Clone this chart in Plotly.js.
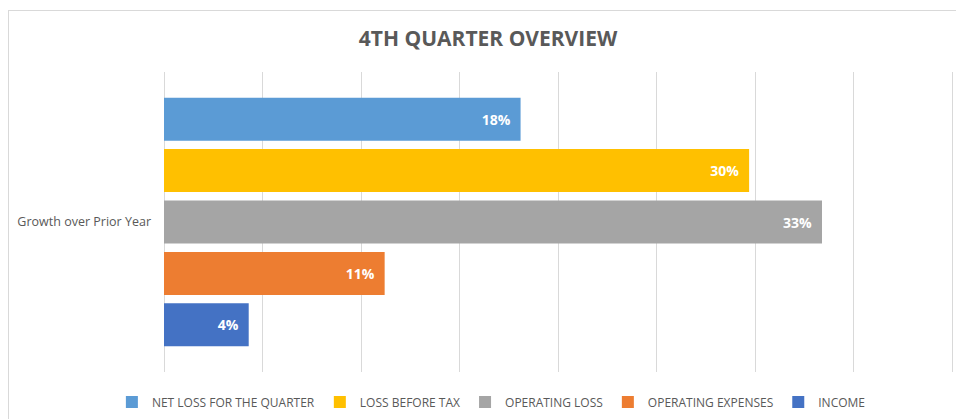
<!DOCTYPE html>
<html>
<head>
<meta charset="utf-8">
<script src="https://cdn.plot.ly/plotly-3.0.1.min.js"></script>
<style>
  html, body { margin: 0; padding: 0; background: #fff; }
  #wrap { position: relative; width: 956px; height: 419px; }
  #chart { width: 956px; height: 419px; }
  #frame { position: absolute; left: 8px; top: 10px; right: -2px; bottom: -2px;
           border-left: 1px solid #d9d9d9; border-top: 1px solid #d9d9d9; pointer-events: none; }
</style>
</head>
<body>
<div id="wrap">
  <div id="chart"></div>
  <div id="frame"></div>
</div>
<script>
// Data (plotted bottom to top; legend shown reversed)
const category = ["Growth over Prior Year"];
const seriesNames = ["INCOME", "OPERATING EXPENSES", "OPERATING LOSS", "LOSS BEFORE TAX", "NET LOSS FOR THE QUARTER"];
const income = [0.043];
const operatingExpenses = [0.112];
const operatingLoss = [0.334];
const lossBeforeTax = [0.297];
const netLoss = [0.181];
const seriesValues = [income, operatingExpenses, operatingLoss, lossBeforeTax, netLoss];
const seriesColors = ["#4472C4", "#ED7D31", "#A5A5A5", "#FFC000", "#5B9BD5"];

const FONT = '"Open Sans", Arial, sans-serif';

const traces = seriesNames.map((name, i) => ({
  type: 'bar',
  orientation: 'h',
  name: name,
  y: category,
  x: seriesValues[i],
  marker: { color: seriesColors[i], line: { width: 0 } },
  texttemplate: '%{x:.0%}\u00a0\u00a0',
  textposition: 'inside',
  insidetextanchor: 'end',
  textfont: { color: '#ffffff', size: 14, family: FONT, weight: 'bold' },
  hoverinfo: 'x+name'
}));

const layout = {
  width: 956,
  height: 419,
  margin: { l: 164, r: 2, t: 72, b: 47 },
  paper_bgcolor: '#ffffff',
  plot_bgcolor: '#ffffff',
  barmode: 'group',
  bargap: 0.143,
  bargroupgap: 0.163,
  title: {
    text: '<b>4TH QUARTER OVERVIEW</b>',
    font: { family: FONT, size: 21, color: '#595959' },
    x: 0.5105, xref: 'container', xanchor: 'center',
    y: 1 - 39/419, yref: 'container', yanchor: 'middle'
  },
  xaxis: {
    range: [0, 0.401],
    dtick: 0.05,
    tick0: 0,
    showticklabels: false,
    showgrid: true,
    gridcolor: '#d9d9d9',
    gridwidth: 1,
    zeroline: true,
    zerolinecolor: '#d9d9d9',
    zerolinewidth: 1,
    showline: false,
    fixedrange: true
  },
  yaxis: {
    range: [-0.5, 0.5],
    showgrid: false,
    zeroline: false,
    showline: false,
    ticks: '',
    ticklabelstandoff: 12,
    tickfont: { family: FONT, size: 12.5, color: '#595959' },
    fixedrange: true
  },
  showlegend: true,
  legend: {
    orientation: 'h',
    traceorder: 'reversed',
    xref: 'container', yref: 'container',
    x: 0.514, xanchor: 'center',
    y: 1 - 402/419, yanchor: 'middle',
    font: { family: FONT, size: 12, color: '#595959' },
    itemclick: false,
    itemdoubleclick: false
  }
};

Plotly.newPlot('chart', traces, layout, { displayModeBar: false, staticPlot: true });
</script>
</body>
</html>
